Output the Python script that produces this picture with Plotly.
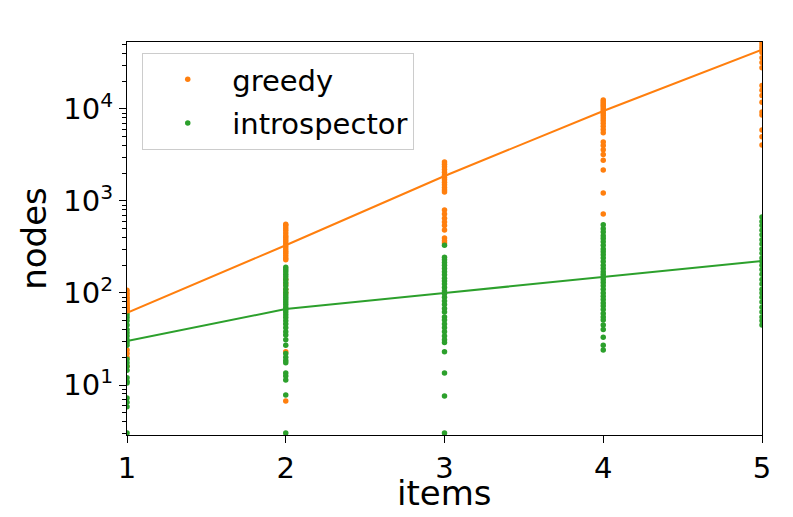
import plotly.graph_objs as go

items = [1, 2, 3, 4, 5]

greedy_nodes = {
    1: [107, 100, 95, 90, 86, 82, 78, 75, 72, 70, 68, 66, 64, 62, 24, 22, 20, 16],
    2: [560, 540, 510, 480, 450, 420, 400, 380, 360, 340, 320, 300, 285, 270, 255, 240, 230,
        140, 125, 110, 100, 23, 6.7],
    3: [2650, 2500, 2350, 2200, 2050, 1900, 1800, 1700, 1600, 1500, 1400, 1320, 1250,
        800, 720, 650, 590, 540, 485, 395, 370, 350],
    4: [12500, 12000, 11500, 11000, 10500, 10000, 9500, 9000, 8500, 8000, 7500, 7000, 6500, 6000,
        5500, 4370, 4000, 3600, 3200, 2780, 2170, 1220, 720],
    5: [53000, 50000, 47000, 44000, 41000, 36000, 32000, 28000, 18000, 16000, 14000, 11800,
        9300, 8600, 5900, 5000, 4050],
}

introspector_nodes = {
    1: [58, 54, 50, 45, 40, 37, 34, 31, 29, 27, 19, 17.5, 16, 14.5, 12, 11, 10.5, 7.2, 6.5, 5.8, 3],
    2: [190, 180, 170, 160, 150, 140, 130, 120, 110, 102, 95, 90, 85, 80, 75, 70, 66, 62, 58, 54,
        50, 46, 42, 38, 35, 31, 27, 22, 20, 18.5, 17.4, 13.5, 12.5, 11.3, 7.8, 3],
    3: [330, 245, 230, 215, 200, 185, 170, 158, 145, 135, 125, 115, 105, 98, 90, 82, 75, 68, 62,
        55, 51, 46, 42, 38, 34, 31, 29, 23, 13.5, 7.6, 3],
    4: [550, 500, 460, 420, 390, 360, 330, 300, 280, 260, 240, 220, 200, 185, 170, 160, 150, 140,
        130, 120, 110, 100, 92, 85, 78, 72, 66, 60, 55, 51, 45, 40, 33, 27, 24],
    5: [670, 600, 540, 480, 430, 380, 340, 300, 270, 240, 220, 200, 180, 160, 140, 125, 110, 100,
        90, 80, 70, 62, 55, 50, 45],
}

greedy_fit = [61, 330, 1870, 9500, 44000]
introspector_fit = [30, 67, 100, 150, 223]

y_tickvals = [10, 100, 1000, 10000]
y_ticktext = ['10<sup>1</sup>', '10<sup>2</sup>', '10<sup>3</sup>', '10<sup>4</sup>']
y_minor = [m * 10 ** d for d in range(0, 5) for m in range(2, 10)]

ORANGE = '#ff7f0e'
GREEN = '#2ca02c'


def flatten(d):
    xs, ys = [], []
    for k in items:
        xs += [k] * len(d[k])
        ys += d[k]
    return xs, ys


fig = go.Figure()

gx, gy = flatten(greedy_nodes)
ix, iy = flatten(introspector_nodes)

fig.add_trace(go.Scatter(x=gx, y=gy, mode='markers', name='greedy', legendgroup='g',
                         marker=dict(color=ORANGE, size=5.5)))
fig.add_trace(go.Scatter(x=ix, y=iy, mode='markers', name='introspector', legendgroup='i',
                         marker=dict(color=GREEN, size=5.5)))
fig.add_trace(go.Scatter(x=items, y=greedy_fit, mode='lines', showlegend=False,
                         line=dict(color=ORANGE, width=2)))
fig.add_trace(go.Scatter(x=items, y=introspector_fit, mode='lines', showlegend=False,
                         line=dict(color=GREEN, width=2)))

# page body has an 8px margin, so the margins are shifted to compensate
fig.update_layout(
    width=793, height=517,
    margin=dict(l=119, r=39, t=34, b=90),
    paper_bgcolor='white', plot_bgcolor='white',
    font=dict(family='DejaVu Sans', size=29, color='black'),
    legend=dict(x=0.024, y=0.972, xanchor='left', yanchor='top',
                bgcolor='white', bordercolor='#cccccc', borderwidth=1,
                font=dict(size=29), itemwidth=79,
                traceorder='grouped', tracegroupgap=3),
    annotations=[dict(text='items', xref='paper', yref='paper', x=0.5, y=-0.148,
                      xanchor='center', yanchor='middle', showarrow=False,
                      font=dict(size=34))],
)

fig.update_xaxes(range=[1, 5], tickvals=items, showgrid=False, zeroline=False,
                 showline=True, linecolor='black', linewidth=1.2, mirror=True,
                 ticks='outside', ticklen=7, tickcolor='black')
fig.update_yaxes(type='log', range=[0.4565, 4.728], tickvals=y_tickvals, ticktext=y_ticktext,
                 showgrid=False, zeroline=False,
                 showline=True, linecolor='black', linewidth=1.2, mirror=True,
                 ticks='outside', ticklen=7, tickcolor='black',
                 minor=dict(tickvals=y_minor, ticks='outside', ticklen=4, tickcolor='black',
                            showgrid=False),
                 title=dict(text='nodes', font=dict(size=34), standoff=6))

fig.write_html("out.html")
